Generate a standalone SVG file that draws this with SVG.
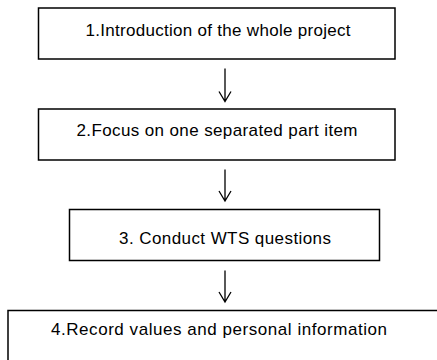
<svg xmlns="http://www.w3.org/2000/svg" width="437" height="360" viewBox="0 0 437 360">
<style>
.box{fill:#fff;stroke:#000;stroke-width:1.5}
.lbl{font-family:"Liberation Sans",Arial,sans-serif;font-size:17px;fill:#000;text-anchor:middle}
.conn{stroke:#000;stroke-width:1.3;fill:none}
</style>
<rect width="437" height="360" fill="#fff"/>
<g id="node1"><rect class="box" x="38.5" y="8" width="356.5" height="51"/><text class="lbl" x="218" y="35.5" textLength="265" lengthAdjust="spacing">1.Introduction of the whole project</text></g>
<g id="node2"><rect class="box" x="38.5" y="109" width="356.5" height="51"/><text class="lbl" x="217" y="135.5" textLength="281" lengthAdjust="spacing">2.Focus on one separated part item</text></g>
<g id="node3"><rect class="box" x="69.5" y="209.5" width="310" height="51"/><text class="lbl" x="225" y="244" textLength="212" lengthAdjust="spacing">3. Conduct WTS questions</text></g>
<g id="node4"><rect class="box" x="8" y="310.5" width="440" height="60"/><text class="lbl" x="219" y="335" textLength="336" lengthAdjust="spacing">4.Record values and personal information</text></g>
<g id="connectors">
<path class="conn" d="M225 68.5V101.5M219 91.5L225 101.5L231 91.5"/>
<path class="conn" d="M225 169.5V201M219 191L225 201L231 191"/>
<path class="conn" d="M225 270.5V302M219 292L225 302L231 292"/>
</g>
</svg>
